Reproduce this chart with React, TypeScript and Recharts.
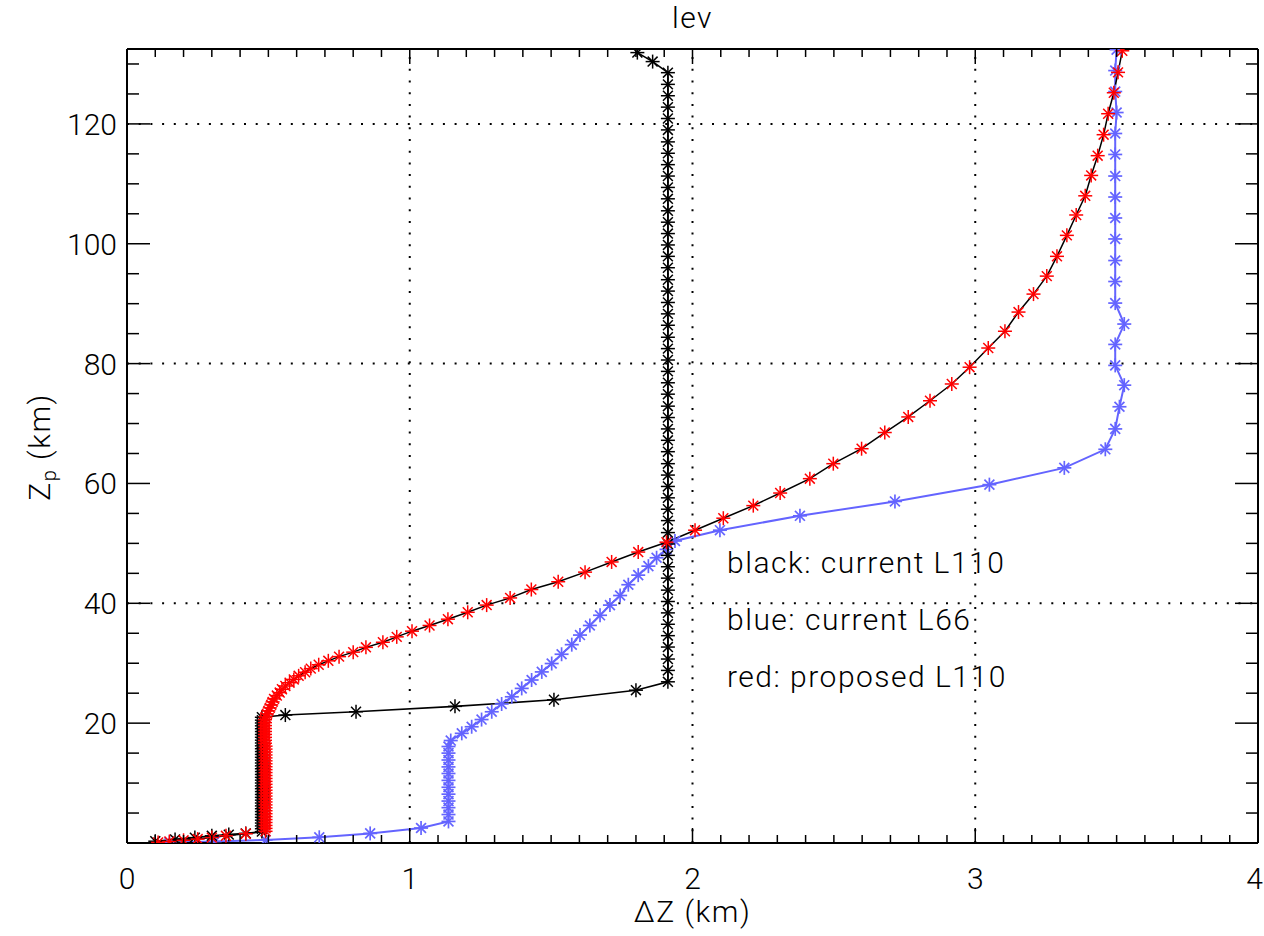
import React from 'react';
import { LineChart, Line, XAxis, YAxis, ReferenceLine } from 'recharts';

// ---------------- data ----------------
// black: current L110  (layer thickness dz [km] vs height Zp [km])
const blackDz = [
  0.10, 0.17, 0.24, 0.30, 0.36, 0.42,
  0.477, 0.477, 0.477, 0.477, 0.477, 0.477, 0.477, 0.477, 0.477, 0.477,
  0.477, 0.477, 0.477, 0.477, 0.477, 0.477, 0.477, 0.477, 0.477, 0.477,
  0.477, 0.477, 0.477, 0.477, 0.477, 0.477, 0.477, 0.477, 0.477, 0.477,
  0.477, 0.477, 0.477, 0.477, 0.477, 0.477, 0.477, 0.477, 0.477, 0.477,
  0.477,
  0.56, 0.81, 1.16, 1.51, 1.80,
  1.913, 1.913, 1.913, 1.913, 1.913, 1.913, 1.913, 1.913, 1.913, 1.913,
  1.913, 1.913, 1.913, 1.913, 1.913, 1.913, 1.913, 1.913, 1.913, 1.913,
  1.913, 1.913, 1.913, 1.913, 1.913, 1.913, 1.913, 1.913, 1.913, 1.913,
  1.913, 1.913, 1.913, 1.913, 1.913, 1.913, 1.913, 1.913, 1.913, 1.913,
  1.913, 1.913, 1.913, 1.913, 1.913, 1.913, 1.913, 1.913, 1.913, 1.913,
  1.913, 1.913, 1.913, 1.913,
  1.859, 1.805,
];
const blackZ = [
  0.3, 0.6, 0.9, 1.2, 1.4, 1.6,
  1.9, 2.38, 2.85, 3.33, 3.81, 4.29, 4.76, 5.24, 5.72, 6.19,
  6.67, 7.15, 7.62, 8.1, 8.58, 9.06, 9.53, 10.01, 10.49, 10.96,
  11.44, 11.92, 12.39, 12.87, 13.35, 13.83, 14.3, 14.78, 15.26, 15.73,
  16.21, 16.69, 17.16, 17.64, 18.12, 18.6, 19.07, 19.55, 20.03, 20.5,
  20.98,
  21.35, 21.9, 22.8, 23.9, 25.5,
  26.9, 28.8, 30.7, 32.7, 34.6, 36.5, 38.4, 40.3, 42.2, 44.2,
  46.1, 48.0, 49.9, 51.8, 53.8, 55.7, 57.6, 59.5, 61.4, 63.3,
  65.3, 67.2, 69.1, 71.0, 72.9, 74.9, 76.8, 78.7, 80.6, 82.5,
  84.4, 86.4, 88.3, 90.2, 92.1, 94.0, 96.0, 97.9, 99.8, 101.7,
  103.6, 105.5, 107.5, 109.4, 111.3, 113.2, 115.1, 117.0, 119.0, 120.9,
  122.8, 124.7, 126.6, 128.55,
  130.4, 131.9,
];

// blue: current L66
const blueDz = [
  0.15, 0.31, 0.49, 0.68, 0.86, 1.04,
  1.137, 1.137, 1.137, 1.137, 1.137, 1.137, 1.137, 1.137, 1.137, 1.137, 1.137, 1.137,
  1.145, 1.184, 1.219, 1.254, 1.29, 1.325, 1.361, 1.396, 1.431, 1.467,
  1.502, 1.537, 1.573, 1.602, 1.637, 1.673, 1.708, 1.744, 1.773, 1.808,
  1.844, 1.873, 1.908, 1.938,
  2.097, 2.38, 2.716, 3.05, 3.315, 3.46, 3.495, 3.51, 3.527, 3.495,
  3.495, 3.527, 3.495, 3.495, 3.495, 3.495, 3.495, 3.495, 3.495, 3.495,
  3.495, 3.5, 3.495, 3.495, 3.5,
];
const blueZ = [
  0.1, 0.25, 0.5, 0.95, 1.6, 2.5,
  3.6, 4.75, 5.9, 7.0, 8.15, 9.3, 10.45, 11.6, 12.7, 13.85, 15.0, 16.1,
  17.1, 18.3, 19.4, 20.6, 21.9, 23.2, 24.4, 25.8, 27.2, 28.55,
  29.95, 31.5, 33.1, 34.7, 36.3, 38.0, 39.7, 41.3, 43.1, 44.7,
  46.2, 47.6, 49.0, 50.4,
  52.2, 54.6, 57.0, 59.8, 62.6, 65.7, 69.1, 72.8, 76.4, 79.7,
  83.2, 86.6, 90.1, 93.7, 97.2, 100.8, 104.3, 107.8, 111.3, 114.9,
  118.4, 121.9, 125.4, 128.9, 132.4,
];

// red: proposed L110
const redDz = [
  0.11, 0.15, 0.20, 0.25, 0.30, 0.35, 0.42,
  0.49, 0.49, 0.49, 0.49, 0.49, 0.49, 0.49, 0.49, 0.49, 0.49,
  0.49, 0.49, 0.49, 0.49, 0.49, 0.49, 0.49, 0.49, 0.49, 0.49,
  0.49, 0.49, 0.49, 0.49, 0.49, 0.49, 0.49, 0.49, 0.49, 0.49,
  0.488, 0.488, 0.488, 0.488, 0.488, 0.488, 0.488, 0.488, 0.488,
  0.49, 0.495, 0.50, 0.505, 0.51, 0.515, 0.52, 0.53, 0.54, 0.548,
  0.56, 0.575, 0.59, 0.607, 0.63, 0.65, 0.678, 0.712, 0.75, 0.80,
  0.845, 0.905, 0.954, 1.008, 1.07, 1.135, 1.205, 1.272, 1.355, 1.43,
  1.525, 1.62, 1.714, 1.808, 1.908, 2.009, 2.109, 2.215, 2.31, 2.415,
  2.498, 2.598, 2.68, 2.763, 2.84, 2.917, 2.98, 3.046, 3.105, 3.153,
  3.206, 3.253, 3.289, 3.324, 3.357, 3.389, 3.41, 3.433, 3.454, 3.47,
  3.49, 3.505, 3.52,
];
const redZ = [
  0.1, 0.25, 0.45, 0.65, 0.9, 1.2, 1.55,
  1.95, 2.44, 2.93, 3.42, 3.91, 4.4, 4.89, 5.38, 5.87, 6.36,
  6.85, 7.34, 7.83, 8.32, 8.81, 9.3, 9.79, 10.28, 10.77, 11.26,
  11.75, 12.24, 12.73, 13.22, 13.71, 14.2, 14.69, 15.18, 15.67, 16.16,
  16.65, 17.14, 17.63, 18.12, 18.61, 19.1, 19.59, 20.08, 20.57,
  21.05, 21.55, 22.05, 22.55, 23.05, 23.55, 24.05, 24.6, 25.1, 25.65,
  26.2, 26.75, 27.3, 27.9, 28.5, 29.1, 29.75, 30.4, 31.1, 31.85,
  32.65, 33.5, 34.4, 35.35, 36.3, 37.35, 38.5, 39.7, 40.9, 42.3,
  43.6, 45.2, 46.9, 48.55, 50.2, 52.2, 54.2, 56.3, 58.4, 60.8,
  63.3, 65.8, 68.5, 71.1, 73.8, 76.6, 79.4, 82.6, 85.4, 88.6,
  91.6, 94.6, 97.9, 101.4, 104.8, 108.0, 111.4, 114.7, 118.2, 121.7,
  125.2, 128.6, 132.2,
];

// axes / labels
const xDomain = [0, 4];
const yDomain = [0, 132.5];
const xMajorTicks = [0, 1, 2, 3, 4];
const xTickLabels = ['0', '1', '2', '3', '4'];
const yMajorTicks = [20, 40, 60, 80, 100, 120];
const yTickLabels = ['20', '40', '60', '80', '100', '120'];
const xGridValues = [1, 2, 3];
const yGridValues = [40, 80, 120];
const legendLines = ['black: current L110', 'blue: current L66', 'red: proposed L110'];
const titleText = 'lev';
const xTitle = 'ΔZ (km)';

const xAllTicks: number[] = [];
for (let i = 0; i <= 40; i++) xAllTicks.push(i / 10);
const yAllTicks: number[] = [];
for (let i = 0; i <= 26; i++) yAllTicks.push(i * 5);

const zip = (dz: number[], z: number[]) => dz.map((d, i) => ({ dz: d, z: z[i] }));
const blackData = zip(blackDz, blackZ);
const blueData = zip(blueDz, blueZ);
const redData = zip(redDz, redZ);

// ---------------- layout ----------------
const W = 1264;
const H = 936;
const PL = 127;
const PR = 1258;
const PT = 49;
const PB = 843;
const FONT = 'Roboto, "DejaVu Sans", sans-serif';
const FS = 30;
const LS = 1.5;

const asterisk = (color: string, r: number, sw: number) => (props: any) => {
  const { cx, cy, index } = props;
  if (cx == null || cy == null) return <g key={`n${index}`} />;
  const d = r * 0.7071;
  return (
    <g key={`a${index}`} stroke={color} strokeWidth={sw} fill="none">
      <line x1={cx} y1={cy - r} x2={cx} y2={cy + r} />
      <line x1={cx - r} y1={cy} x2={cx + r} y2={cy} />
      <line x1={cx - d} y1={cy - d} x2={cx + d} y2={cy + d} />
      <line x1={cx - d} y1={cy + d} x2={cx + d} y2={cy - d} />
    </g>
  );
};

const isXMajor = (v: number) => Math.abs(v - Math.round(v)) < 1e-6;
const isYMajor = (v: number) => v % 20 === 0;

const BottomTick = (props: any) => {
  const { x, y, payload } = props;
  const v = payload.value;
  const major = isXMajor(v);
  const idx = xMajorTicks.indexOf(Math.round(v));
  const last = idx === xMajorTicks.length - 1;
  return (
    <g>
      <line x1={x} x2={x} y1={y} y2={y - (major ? 15 : 8)} stroke="#000" strokeWidth={1.5} />
      {major && idx >= 0 && (
        <text
          x={last ? W - 1 : x}
          y={y + 46}
          textAnchor={last ? 'end' : 'middle'}
          fontFamily={FONT}
          fontSize={FS}
          fontWeight={300}
          fill="#000"
        >
          {xTickLabels[idx]}
        </text>
      )}
    </g>
  );
};
const TopTick = (props: any) => {
  const { x, y, payload } = props;
  const major = isXMajor(payload.value);
  return <line x1={x} x2={x} y1={y} y2={y + (major ? 15 : 8)} stroke="#000" strokeWidth={1.5} />;
};
const LeftTick = (props: any) => {
  const { x, y, payload } = props;
  const v = payload.value;
  const major = isYMajor(v);
  const idx = yMajorTicks.indexOf(v);
  return (
    <g>
      <line x1={x} x2={x + (major ? 23 : 12)} y1={y} y2={y} stroke="#000" strokeWidth={1.5} />
      {major && idx >= 0 && (
        <text x={x - 10} y={y + 11} textAnchor="end" fontFamily={FONT} fontSize={FS} fontWeight={300} fill="#000">
          {yTickLabels[idx]}
        </text>
      )}
    </g>
  );
};
const RightTick = (props: any) => {
  const { x, y, payload } = props;
  const major = isYMajor(payload.value);
  return <line x1={x} x2={x - (major ? 23 : 12)} y1={y} y2={y} stroke="#000" strokeWidth={1.5} />;
};

const axisLine = { stroke: '#000', strokeWidth: 2 };
const dots = '2 9.7';

export default function App() {
  return (
    <div style={{ position: 'absolute', left: 0, top: 0, width: W, height: H, background: '#fff' }}>
      <LineChart
        width={W}
        height={H}
        margin={{ top: PT - 1, right: W - PR - 1, bottom: H - PB - 1, left: PL - 1 }}
      >
        <XAxis
          xAxisId={0}
          type="number"
          dataKey="dz"
          domain={xDomain}
          ticks={xAllTicks}
          interval={0}
          height={1}
          tickSize={0}
          tickMargin={0}
          tickLine={false}
          axisLine={axisLine}
          tick={<BottomTick />}
          allowDataOverflow
        />
        <XAxis
          xAxisId="top"
          orientation="top"
          type="number"
          dataKey="dz"
          domain={xDomain}
          ticks={xAllTicks}
          interval={0}
          height={1}
          tickSize={0}
          tickMargin={0}
          tickLine={false}
          axisLine={axisLine}
          tick={<TopTick />}
          allowDataOverflow
        />
        <YAxis
          yAxisId={0}
          type="number"
          dataKey="z"
          domain={yDomain}
          ticks={yAllTicks}
          interval={0}
          width={1}
          tickSize={0}
          tickMargin={0}
          tickLine={false}
          axisLine={axisLine}
          tick={<LeftTick />}
          allowDataOverflow
        />
        <YAxis
          yAxisId="right"
          orientation="right"
          type="number"
          dataKey="z"
          domain={yDomain}
          ticks={yAllTicks}
          interval={0}
          width={1}
          tickSize={0}
          tickMargin={0}
          tickLine={false}
          axisLine={axisLine}
          tick={<RightTick />}
          allowDataOverflow
        />
        {xGridValues.map((v) => (
          <ReferenceLine key={`gx${v}`} xAxisId={0} yAxisId={0} x={v} stroke="#000" strokeWidth={2} strokeDasharray={dots} />
        ))}
        {yGridValues.map((v) => (
          <ReferenceLine key={`gy${v}`} xAxisId={0} yAxisId={0} y={v} stroke="#000" strokeWidth={2} strokeDasharray={dots} />
        ))}
        <Line
          xAxisId={0}
          yAxisId={0}
          data={blueData}
          dataKey="z"
          type="linear"
          stroke="#6464ff"
          strokeWidth={2}
          dot={asterisk('#6464ff', 7, 1.7)}
          activeDot={false}
          isAnimationActive={false}
        />
        <Line
          xAxisId={0}
          yAxisId={0}
          data={blackData}
          dataKey="z"
          type="linear"
          stroke="#000"
          strokeWidth={1.6}
          dot={asterisk('#000', 7, 1.5)}
          activeDot={false}
          isAnimationActive={false}
        />
        <Line
          xAxisId={0}
          yAxisId={0}
          data={redData}
          dataKey="z"
          type="linear"
          stroke="#000"
          strokeWidth={1.5}
          dot={asterisk('#ff0000', 7, 1.5)}
          activeDot={false}
          isAnimationActive={false}
        />
      </LineChart>
      <svg
        width={W}
        height={H}
        style={{ position: 'absolute', left: 0, top: 0, pointerEvents: 'none' }}
        fontFamily={FONT}
        fontWeight={300}
      >
        <text x={(PL + PR) / 2} y={28} textAnchor="middle" fontSize={FS} fill="#000" letterSpacing={LS}>
          {titleText}
        </text>
        <text x={(PL + PR) / 2} y={922} textAnchor="middle" fontSize={FS} fill="#000" letterSpacing={LS}>
          {xTitle}
        </text>
        <text x={50} y={447} textAnchor="middle" fontSize={FS} fill="#000" letterSpacing={LS} transform="rotate(-90 50 447)">
          Z<tspan fontSize={20} dy={6}>p</tspan>
          <tspan dy={-6}> (km)</tspan>
        </text>
        {legendLines.map((t, i) => (
          <text key={t} x={727} y={573 + i * 57} fontSize={FS} fill="#000" letterSpacing={LS}>
            {t}
          </text>
        ))}
      </svg>
    </div>
  );
}
